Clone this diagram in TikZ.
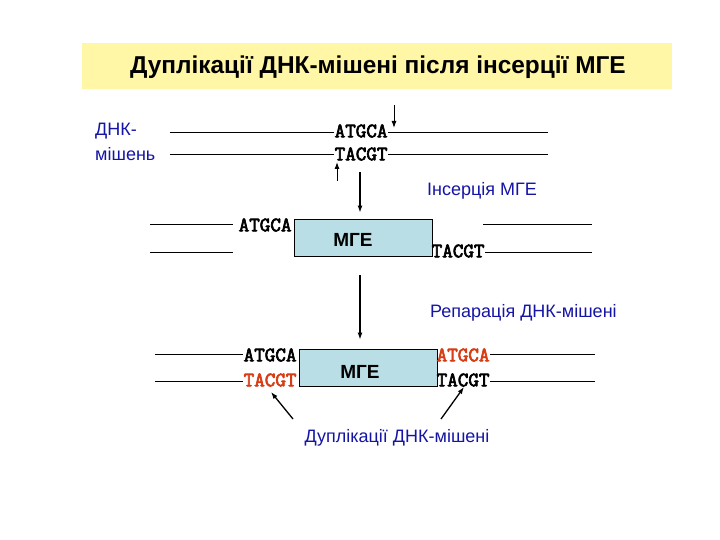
\documentclass[tikz,border=0pt]{standalone}
\usepackage{fontspec}
\setmainfont{Liberation Sans}
\newfontfamily\seqfont{Latin Modern Mono}[FakeBold=3.2]
\usepackage{xcolor}
\usepackage{tikz}
\usetikzlibrary{calc}
\usetikzlibrary{arrows.meta}

\definecolor{bandyellow}{RGB}{255,247,165}
\definecolor{boxblue}{RGB}{185,222,230}
\definecolor{labelblue}{RGB}{20,20,165}
\definecolor{dupred}{RGB}{215,60,20}

\tikzset{
	seq/.style={font=\seqfont\fontsize{20.5}{20.5}\selectfont,inner sep=0.5pt,anchor=west},
	note/.style={font=\fontsize{18}{18}\selectfont,text=labelblue,inner sep=0pt},
	mgebox/.style={draw,fill=boxblue,line width=0.9pt,minimum width=138pt,minimum height=37pt,inner sep=0pt},
	mgelabel/.style={font=\bfseries\fontsize{19}{19}\selectfont,inner sep=0pt},
	strand/.style={line width=0.8pt},
	arr/.style={-{Latex[length=7pt,width=5pt]},line width=1.3pt}
}

\begin{document}
\begin{tikzpicture}[x=1pt,y=-1pt]
		\useasboundingbox (0,0) rectangle (720,540);
		% title band
		\fill [bandyellow] (82,43) rectangle (672,89);
		\node [font=\bfseries\fontsize{24.4}{24.4}\selectfont,inner sep=0pt] (title) at (378,67)
			{Дуплікації ДНК-мішені після інсерції МГЕ};

		% target DNA
		\node [note,align=left,anchor=north west,font=\fontsize{18}{25}\selectfont] (target) at (95,123)
			{ДНК-\\мішень};
		\node [seq] (t1) at (334,131) {ATGCA};
		\node [seq] (t2) at (334,154) {TACGT};
		\coordinate (t1l) at (170,132);
		\coordinate (t1r) at (548,132);
		\coordinate (t2l) at (170,154);
		\coordinate (t2r) at (548,154);
		\draw [strand] (t1l) -- (t1.west |- t1l)
			  (t1.east |- t1r) -- (t1r)
			  (t2l) -- (t2.west |- t2l)
			  (t2.east |- t2r) -- (t2r);
		\coordinate (cut1) at (394,105);
		\coordinate (cut2) at (337,181);
		\draw [arr,line width=1pt] (cut1) -- (394,128);
		\draw [arr,line width=1pt] (cut2) -- (337,162);

		% insertion
		\coordinate (d1) at (360,172);
		\node [note,anchor=west] (ins) at (427,191) {Інсерція МГЕ};
		\node [mgebox] (box1) at (363,237.5) {};
		\node [mgelabel] (box1lbl) at (353,240) {МГЕ};
		\draw [arr] (d1) -- ($(d1 |- box1.north)+(0,-6)$);
		\node [seq] (m1) at (238,225) {ATGCA};
		\node [seq] (m2) at (431,251) {TACGT};
		\coordinate (m1l) at (150,224);
		\coordinate (m1e) at (233,224);
		\coordinate (m2l) at (150,252);
		\coordinate (m2e) at (233,252);
		\coordinate (m3s) at (483,224);
		\coordinate (m3e) at (592,224);
		\coordinate (m2r) at (592,252);
		\draw [strand] (m1l) -- (m1e)
			  (m2l) -- (m2e)
			  (m3s) -- (m3e)
			  (m2.east |- m2r) -- (m2r);

		% repair
		\coordinate (d2) at (360,275);
		\node [note,anchor=west] (rep) at (430,313) {Репарація ДНК-мішені};
		\node [mgebox] (box2) at (368,367.5) {};
		\node [mgelabel] (box2lbl) at (360,372) {МГЕ};
		\draw [arr] (d2) -- ($(d2 |- box2.north)+(0,-9)$);
		\node [seq] (b1) at (243,355) {ATGCA};
		\node [seq,text=dupred] (b2) at (243,380) {TACGT};
		\node [seq,text=dupred] (b3) at (436,355) {ATGCA};
		\node [seq] (b4) at (436,380) {TACGT};
		\coordinate (b1l) at (155,354);
		\coordinate (b2l) at (155,381);
		\coordinate (b3r) at (595,354);
		\coordinate (b4r) at (595,381);
		\draw [strand] (b1l) -- (b1.west |- b1l)
			  (b2l) -- (b2.west |- b2l)
			  (b3.east |- b3r) -- (b3r)
			  (b4.east |- b4r) -- (b4r);

		% duplications
		\node [note] (dup) at (397,438) {Дуплікації ДНК-мішені};
		\coordinate (p1) at (293,419);
		\coordinate (p2) at (441,419);
		\draw [arr] (p1) -- (271,392);
		\draw [arr] (p2) -- (464,387);
	\end{tikzpicture}
\end{document}
